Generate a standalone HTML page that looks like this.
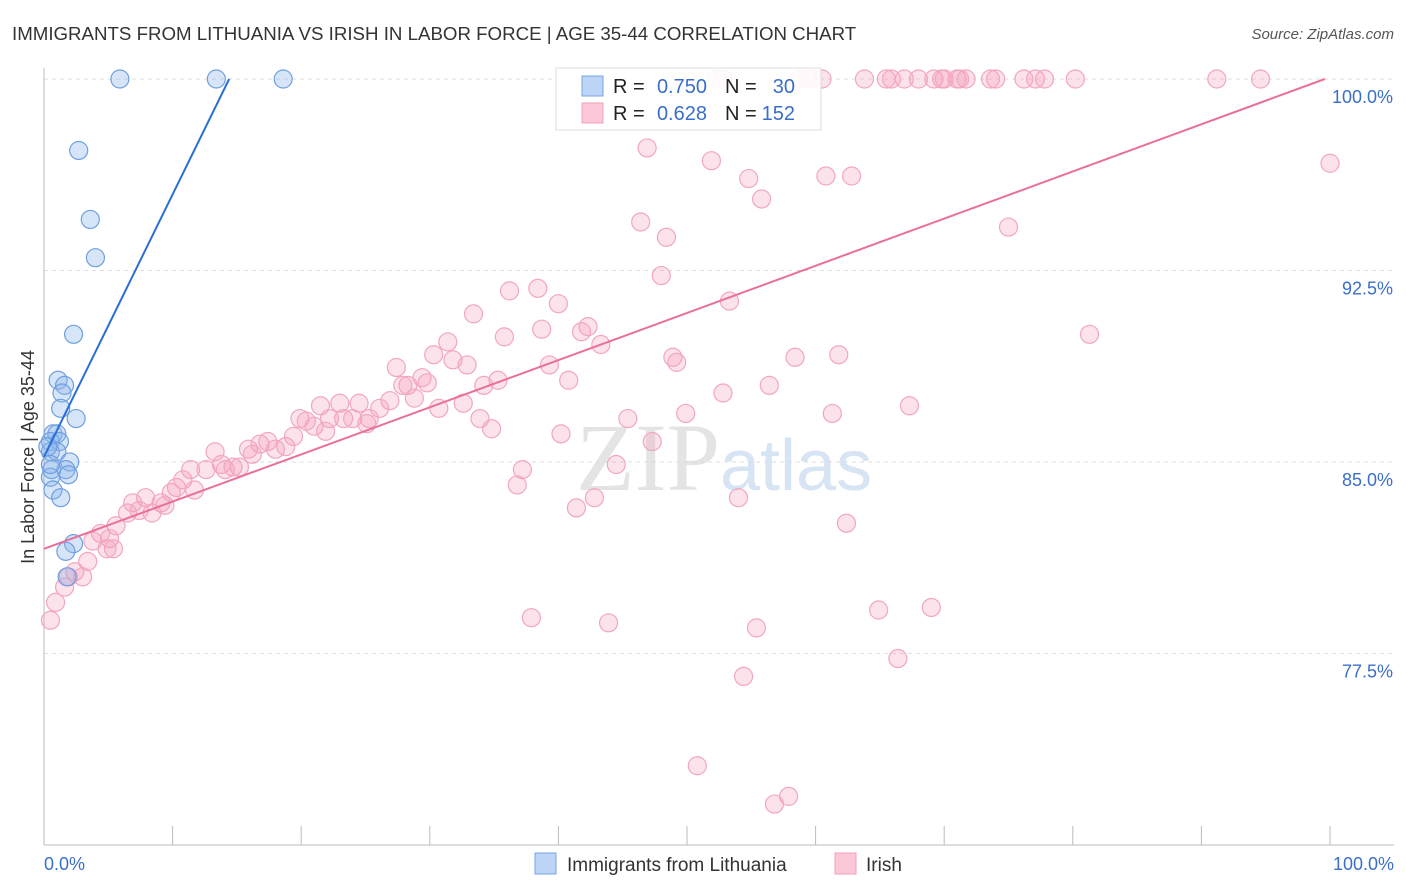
<!DOCTYPE html>
<html><head><meta charset="utf-8"><style>
body{margin:0;background:#fff;font-family:"Liberation Sans",sans-serif}
svg{display:block}
</style></head><body>
<svg id="c" width="1406" height="892" xmlns="http://www.w3.org/2000/svg">
<text x="12" y="40" font-size="18.7" fill="#333">IMMIGRANTS FROM LITHUANIA VS IRISH IN LABOR FORCE | AGE 35-44 CORRELATION CHART</text>
<text x="1394" y="39" font-size="15" fill="#555" font-style="italic" text-anchor="end">Source: ZipAtlas.com</text>
<text x="720" y="490" font-size="96" fill="#e4e4e4" text-anchor="end" font-family="Liberation Serif">ZIP</text>
<text x="720" y="490" font-size="72" fill="#d6e4f4">atlas</text>
<g id="grid"></g><g id="pts"></g><g id="lines"></g>
<text transform="translate(34,457) rotate(-90)" font-size="18" fill="#333" text-anchor="middle">In Labor Force | Age 35-44</text>
<text x="44" y="870" font-size="18" fill="#3a6fc9">0.0%</text>
<text x="1394" y="870" font-size="18" fill="#3a6fc9" text-anchor="end">100.0%</text>
<g font-size="20">
<rect x="556" y="68" width="265" height="62" fill="#fff" fill-opacity="0.9" stroke="#ddd"/>
<rect x="582" y="76" width="21" height="20" fill="#bcd4f6" stroke="#7aa6e6"/>
<rect x="582" y="103" width="21" height="20" fill="#fcc8d8" stroke="#f0a0bc"/>
<text x="613" y="93" fill="#222">R =</text>
<text x="707" y="93" fill="#3a6fc9" text-anchor="end">0.750</text>
<text x="725" y="93" fill="#222">N =</text>
<text x="795" y="93" fill="#3a6fc9" text-anchor="end">30</text>
<text x="613" y="120" fill="#222">R =</text>
<text x="707" y="120" fill="#3a6fc9" text-anchor="end">0.628</text>
<text x="725" y="120" fill="#222">N =</text>
<text x="795" y="120" fill="#3a6fc9" text-anchor="end">152</text>
</g>
<g>
<rect x="535" y="853" width="21" height="21" fill="#bcd4f6" stroke="#7aa6e6"/>
<text x="567" y="871" font-size="19" fill="#333">Immigrants from Lithuania</text>
<rect x="835" y="853" width="21" height="21" fill="#fcc8d8" stroke="#f0a0bc"/>
<text x="866" y="871" font-size="19" fill="#333">Irish</text>
</g>
</svg>
<script>
const yTicks=[100,92.5,85,77.5];
const yTickLabels=["100.0%","92.5%","85.0%","77.5%"];
const xTicks=[0,10,20,30,40,50,60,70,80,90,100];
const blueX=[5.9,13.4,18.6,2.7,3.6,4.0,2.3,1.1,1.6,1.4,1.3,2.5,0.7,1.0,0.5,1.2,0.5,1.0,2.0,1.7,0.6,1.9,0.5,0.7,1.3,2.3,1.7,1.8,0.5,0.3];
const blueY=[100,100,100,97.2,94.5,93.0,90.0,88.2,88.0,87.7,87.1,86.7,86.1,86.1,85.8,85.8,85.4,85.4,85.0,84.7,84.7,84.5,84.4,83.9,83.6,81.8,81.5,80.5,84.9,85.6];
const pinkX=[52.3,59.4,59.7,60.5,63.8,65.5,65.9,66.9,68.0,69.2,69.8,70.0,71.0,71.2,71.7,73.6,74.0,76.2,77.1,77.8,80.2,91.2,94.6,52.8,58.8,
46.9,51.9,54.8,55.8,60.8,62.8,100,46.4,48.4,75.0,48.0,36.2,38.4,40.0,33.4,53.3,38.7,35.8,42.3,41.8,43.3,81.3,30.3,31.4,31.8,32.9,39.3,48.9,49.2,58.4,61.8,
27.4,28.3,27.9,29.4,29.8,28.8,34.2,35.3,40.8,56.4,52.8,26.9,24.5,26.1,23.0,21.5,32.6,30.7,61.3,49.9,67.3,19.9,20.4,22.2,23.3,24.0,25.3,33.9,45.4,25.1,21.0,21.9,19.4,34.8,40.2,47.3,
15.9,16.8,17.4,18.0,18.8,16.2,13.3,13.8,11.4,12.6,14.7,15.2,14.1,10.8,10.3,9.9,11.7,37.2,44.5,36.8,7.9,6.9,9.1,6.5,7.4,8.4,9.4,5.6,4.4,5.1,3.8,5.4,4.9,3.4,2.4,3.0,1.9,1.6,0.9,0.5,
41.4,42.8,54.0,62.4,37.9,43.9,55.4,64.9,69.0,66.4,54.4,50.8,56.8,57.9];
const pinkY=[100,100,100,100,100,100,100,100,100,100,100,100,100,100,100,100,100,100,100,100,100,100,100,100,100,
97.3,96.8,96.1,95.3,96.2,96.2,96.7,94.4,93.8,94.2,92.3,91.7,91.8,91.2,90.8,91.3,90.2,89.9,90.3,90.1,89.6,90.0,89.2,89.7,89.0,88.8,88.8,89.1,88.9,89.1,89.2,
88.7,88.0,88.0,88.3,88.1,87.5,88.0,88.2,88.2,88.0,87.7,87.4,87.3,87.1,87.3,87.2,87.3,87.1,86.9,86.9,87.2,86.7,86.6,86.7,86.7,86.7,86.7,86.7,86.7,86.5,86.4,86.2,86.0,86.3,86.1,85.8,
85.5,85.7,85.8,85.5,85.6,85.3,85.4,84.9,84.7,84.7,84.8,84.8,84.7,84.3,84.0,83.8,83.9,84.7,84.9,84.1,83.6,83.4,83.4,83.0,83.1,83.0,83.3,82.5,82.2,82.0,81.9,81.6,81.6,81.1,80.7,80.5,80.5,80.1,79.5,78.8,
83.2,83.6,83.6,82.6,78.9,78.7,78.5,79.2,79.3,77.3,76.6,73.1,71.6,71.9];
const blueLine=[[0,85.2],[14.4,100]];
const pinkLine=[[0,81.6],[99.6,100]];
const NS="http://www.w3.org/2000/svg";
const X=v=>44+v*12.86, Y=v=>79+(100-v)*25.53;
function mk(t,a,p){const e=document.createElementNS(NS,t);for(const k in a)e.setAttribute(k,a[k]);p.appendChild(e);return e;}
const g=document.getElementById('grid');
yTicks.forEach((t,i)=>{
 const l=mk('line',{x1:44,x2:1394,y1:Y(t),y2:Y(t),stroke:'#ddd','stroke-dasharray':'4,4'},g);
 
 
 const tx=mk('text',{x:1393,y:Y(t)+24,'font-size':18,fill:'#3a6fc9','text-anchor':'end'},g);
 tx.textContent=yTickLabels[i];
 
 
});
const ax=mk('line',{x1:44,x2:44,y1:68,y2:845,stroke:'#bbb'},g);


const bx=mk('line',{x1:44,x2:1394,y1:845,y2:845,stroke:'#bbb'},g);


xTicks.forEach(t=>{
 const l=mk('line',{x1:X(t),x2:X(t),y1:826,y2:845,stroke:'#bbb'},g);
 
 
});
const p=document.getElementById('pts');
pinkX.forEach((x,i)=>{
 const c=mk('circle',{cx:X(x),cy:Y(pinkY[i]),r:9,fill:'rgba(244,160,190,0.3)',stroke:'#f2a6c0','stroke-width':1.2},p);
 
 
});
blueX.forEach((x,i)=>{
 const c=mk('circle',{cx:X(x),cy:Y(blueY[i]),r:9,fill:'rgba(140,180,235,0.35)',stroke:'#6e9fe0','stroke-width':1.2},p);
 
 
});
const L=document.getElementById('lines');
const b=mk('line',{x1:X(blueLine[0][0]),y1:Y(blueLine[0][1]),x2:X(blueLine[1][0]),y2:Y(blueLine[1][1]),stroke:'#2a6fd6','stroke-width':2},L);


const q=mk('line',{x1:X(pinkLine[0][0]),y1:Y(pinkLine[0][1]),x2:X(pinkLine[1][0]),y2:Y(pinkLine[1][1]),stroke:'#e8709a','stroke-width':2},L);


</script>
</body></html>
